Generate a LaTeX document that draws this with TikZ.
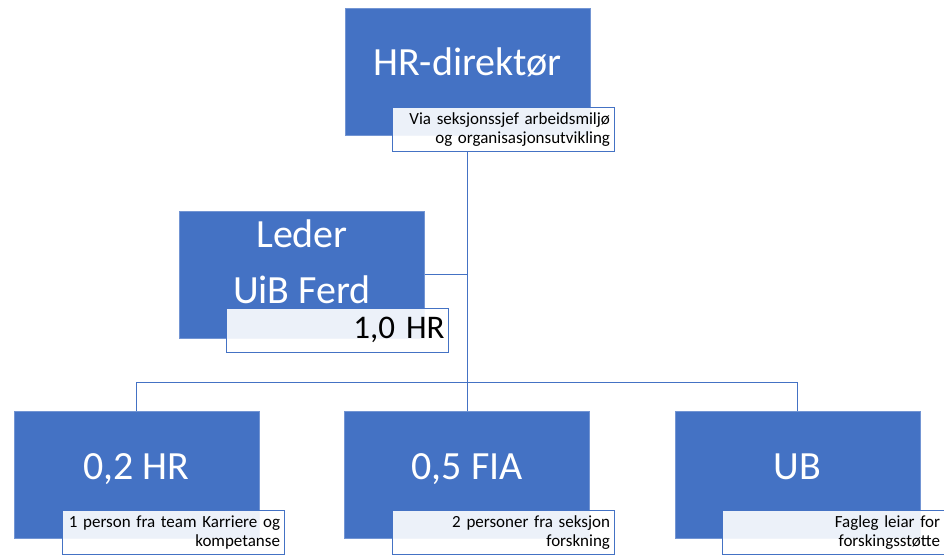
\documentclass[tikz,border=0pt]{standalone}
\usepackage{fontspec}
\setmainfont{Carlito}
\definecolor{boxblue}{HTML}{4472C4}
\tikzset{
  unit/.style={rectangle, fill=boxblue, draw=boxblue!75!white, line width=0.6pt,
    text=white, minimum width=245pt, minimum height=127pt,
    font=\fontsize{40}{56}\selectfont, text height=24pt, text depth=16pt},
  note/.style={rectangle, draw=boxblue, line width=0.8pt, fill=white,
    fill opacity=0.9, text opacity=1, text=black, minimum width=222pt,
    minimum height=44pt, inner sep=0pt, text width=214pt, align=right,
    font=\fontsize{17}{19}\selectfont},
  link/.style={draw=boxblue, line width=1pt}
}
\begin{document}
\begin{tikzpicture}[x=1pt,y=-1pt]
\useasboundingbox (0,0) rectangle (944,555);
    % units
    \node[unit] (dir) at (467.5,71.5) {HR-direktør};
    \node[unit, align=center, text height=80pt, text depth=23pt] (lead) at (302,274.5) {Leder\\UiB Ferd};
    \node[unit] (hr) at (136.5,475) {0,2 HR};
    \node[unit] (fia) at (467,475) {0,5 FIA};
    \node[unit] (ub) at (797.5,475) {UB};
    \coordinate (bus) at (467,382);
    % lines
    \draw[link] (dir |- 0,152) -- (dir |- bus);
    \draw[link] (lead.east) -- (dir |- lead.east);
    \draw[link] (hr.north) -- (hr |- bus) -- (ub |- bus) -- (ub.north);
    \draw[link] (fia.north) -- (fia |- bus);
    % notes
    \node[note] (dirnote) at (503,129.5) {Via seksjonssjef arbeidsmiljø\\og organisasjonsutvikling};
    \node[note, font=\fontsize{33}{36}\selectfont] (leadnote) at (337.5,330) {1,0 HR};
    \node[note] (hrnote) at (173,532.5) {1 person fra team Karriere og\\kompetanse};
    \node[note] (fianote) at (503,532.5) {2 personer fra seksjon\\forskning};
    \node[note] (ubnote) at (833,532.5) {Fagleg leiar for\\forskingsstøtte};
\end{tikzpicture}
\end{document}
